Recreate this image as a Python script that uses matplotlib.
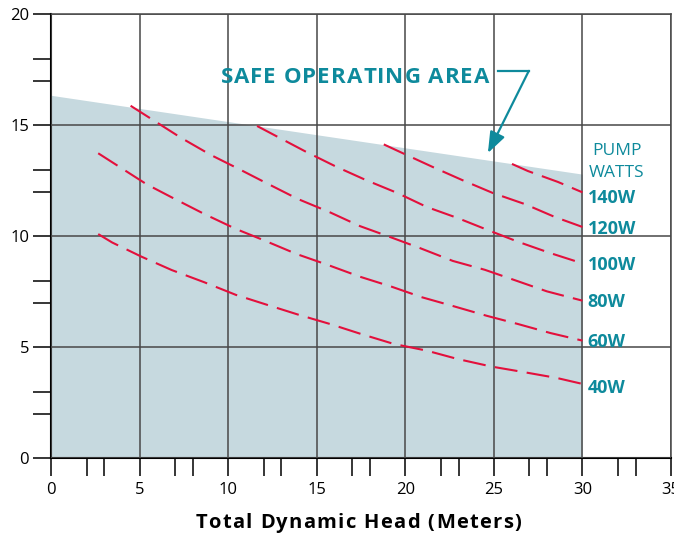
import numpy as np
import matplotlib.pyplot as plt
from matplotlib.font_manager import FontProperties, findfont, get_font

# safe operating area (top edge of the shaded region)
area_x = [0, 30]
area_top = [16.35, 12.8]

# pump curves
x_140w = [26.02, 26.92, 28.61, 30]
y_140w = [13.26, 12.94, 12.45, 11.98]

x_120w = [18.78, 19.86, 21.55, 23.19, 24.94, 26.75, 28.44, 30]
y_120w = [14.14, 13.74, 13.12, 12.54, 11.95, 11.45, 10.87, 10.42]

x_100w = [11.62, 14.38, 16.08, 17.75, 19.52, 21.21, 22.96, 24.66, 26.41, 28.16, 30]
y_100w = [14.97, 13.81, 13.14, 12.54, 11.96, 11.32, 10.82, 10.28, 9.74, 9.25, 8.78]

x_80w = [4.48, 7.32, 9.02, 10.6, 12.24, 13.93, 15.74, 17.43, 19.13, 20.82, 22.68, 24.49, 26.3, 27.99, 30]
y_80w = [15.88, 14.44, 13.66, 13.03, 12.36, 11.68, 11.08, 10.46, 9.97, 9.47, 8.89, 8.49, 7.99, 7.52, 7.1]

x_60w = [2.65, 5.39, 6.98, 8.68, 10.43, 12.07, 13.86, 15.62, 17.43, 19.22, 20.95, 22.68, 24.59, 26.35, 28.2, 30]
y_60w = [13.74, 12.34, 11.68, 10.99, 10.33, 9.80, 9.20, 8.71, 8.18, 7.73, 7.25, 6.86, 6.42, 6.05, 5.64, 5.30]

x_40w = [2.65, 3.44, 5.10, 6.80, 8.64, 10.43, 12.2, 13.99, 15.74, 17.53, 19.35, 21.2, 22.96, 24.87, 26.63, 28.54, 30]
y_40w = [10.10, 9.72, 9.08, 8.48, 7.93, 7.36, 6.91, 6.46, 6.05, 5.59, 5.15, 4.85, 4.47, 4.13, 3.89, 3.62, 3.35]

watts = ['140W', '120W', '100W', '80W', '60W', '40W']
curves = [(x_140w, y_140w), (x_120w, y_120w), (x_100w, y_100w),
          (x_80w, y_80w), (x_60w, y_60w), (x_40w, y_40w)]

major_ticks = [0, 5, 10, 15, 20, 25, 30, 35]
x_minor = [2, 3, 7, 8, 12, 13, 17, 18, 22, 23, 27, 28, 32, 33]
y_minor = [2, 3, 7, 8, 12, 13, 17, 18]

TEAL = '#0e8a9c'
RED = '#e3103c'
FILL = '#c6d9df'
GRID = '#484848'
FONT = 'Open Sans'


def spaced_text(ax, x, y, s, size, track, color, coords='data'):
    # draw bold text letter by letter so the letter spacing can be widened
    fp = FontProperties(family=FONT, weight='bold', size=size)
    font = get_font(findfont(fp))
    font.set_size(size, 72)
    adv = [font.load_char(ord(c)).linearHoriAdvance / 65536 for c in s]
    pos = -(sum(adv) + track * (len(s) - 1)) / 2
    for c, a in zip(s, adv):
        ax.annotate(c, (x, y), xycoords=coords, xytext=(pos, 0), textcoords='offset points',
                    ha='left', va='baseline', fontproperties=fp, color=color,
                    annotation_clip=False)
        pos += a + track


plt.rcParams['font.family'] = FONT

fig = plt.figure(figsize=(6.74, 5.36), dpi=100)
ax = fig.add_axes([0.0761, 0.145, 0.9194, 0.8283])

ax.fill_between(area_x, 0, area_top, color=FILL, lw=0, zorder=1)

for xs, ys in curves:
    ax.plot(xs, ys, color=RED, lw=1.5, dashes=(11, 4.5), zorder=4)

nudge = {'140W': -0.2, '40W': -0.12}
for lab, (xs, ys) in zip(watts, curves):
    ax.text(30.3, ys[-1] - 0.3 + nudge.get(lab, 0), lab, color=TEAL, fontsize=13,
            fontweight='bold', ha='left', va='baseline', zorder=5)

ax.text(31.94, 13.66, 'PUMP', color=TEAL, fontsize=12.5, ha='center', va='baseline')
ax.text(31.94, 12.68, 'WATTS', color=TEAL, fontsize=12.5, ha='center', va='baseline')

spaced_text(ax, 17.15, 16.89, 'SAFE OPERATING AREA', 16, 0.75, TEAL)
ax.plot([25.22, 26.97], [17.45, 17.45], color=TEAL, lw=1.6, zorder=5)
ax.annotate('', xy=(24.66, 13.75), xytext=(26.97, 17.45),
            arrowprops=dict(arrowstyle='-|>,head_length=0.8,head_width=0.3',
                            color=TEAL, lw=1.6, shrinkA=0, shrinkB=0, mutation_scale=16),
            zorder=5)

spaced_text(ax, 0.4955, -0.157, 'Total Dynamic Head (Meters)', 14.5, 0.95, 'black',
            coords='axes fraction')

ax.set_xlim(0, 35)
ax.set_ylim(0, 20)
ax.set_xticks(major_ticks)
ax.set_yticks(major_ticks[:5])
ax.set_xticks(x_minor, minor=True)
ax.set_yticks(y_minor, minor=True)
ax.grid(True, which='major', color=GRID, lw=1.1, zorder=2)
ax.set_axisbelow(False)
for ln in ax.get_xgridlines() + ax.get_ygridlines():
    ln.set_zorder(2)

ax.tick_params(which='both', direction='out', length=13, width=1.1, color='black',
               labelsize=12, pad=3)
ax.tick_params(axis='x', which='major', pad=4)

ax.spines['left'].set_linewidth(1.5)
ax.spines['bottom'].set_linewidth(1.5)
ax.spines['left'].set_color('black')
ax.spines['bottom'].set_color('black')
for side in ['top', 'right']:
    ax.spines[side].set_color(GRID)
    ax.spines[side].set_linewidth(1.1)

fig.savefig('out.png', dpi=100)
